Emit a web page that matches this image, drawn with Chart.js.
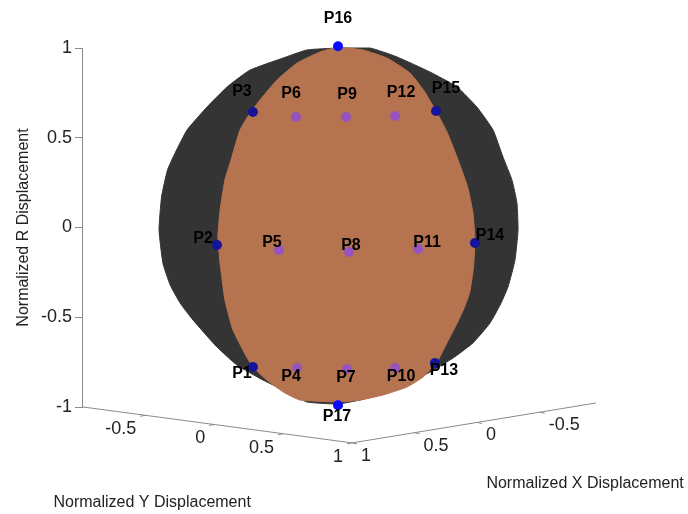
<!DOCTYPE html>
<html>
<head>
<meta charset="utf-8">
<script src="https://cdn.jsdelivr.net/npm/chart.js@4.4.1/dist/chart.umd.min.js"></script>
<style>
  html, body { margin: 0; padding: 0; background: #fff; }
</style>
</head>
<body>
<canvas id="sphereChart" width="688" height="514"></canvas>
<script>
// measuring points, as seen in the view plane (horizontal offset, normalized R)
const pointNames = ["P1", "P2", "P3", "P4", "P5", "P6", "P7", "P8", "P9",
                    "P10", "P11", "P12", "P13", "P14", "P15", "P16", "P17"];
const pointH = [-0.474, -0.674, -0.474, -0.228, -0.329, -0.234, 0.050, 0.061, 0.045,
                0.318, 0.446, 0.318, 0.540, 0.763, 0.546, 0.000, 0.000];
const pointR = [-0.777, -0.097, 0.643, -0.783, -0.125, 0.616, -0.788, -0.136, 0.616,
                -0.783, -0.120, 0.621, -0.755, -0.086, 0.649, 1.010, -0.990];
const rimPoints = ["P1", "P2", "P3", "P13", "P14", "P15"];
const polePoints = ["P16", "P17"];

// outline of the undeformed sphere
const sphereH = [0.000, 0.178, 0.329, 0.513, 0.663, 0.774, 0.864, 0.919, 0.969, 0.997,
                 1.003, 0.986, 0.947, 0.903, 0.847, 0.752, 0.641, 0.513, 0.401, 0.273,
                 0.123, 0.000, -0.173, -0.267, -0.418, -0.563, -0.674, -0.808, -0.880, -0.935,
                 -0.975, -0.997, -0.983, -0.950, -0.905, -0.841, -0.730, -0.618, -0.490, -0.306,
                 -0.173, 0.000];
const sphereR = [1.000, 1.000, 0.950, 0.866, 0.783, 0.671, 0.543, 0.393, 0.265, 0.136,
                 -0.014, -0.181, -0.331, -0.432, -0.532, -0.643, -0.727, -0.805, -0.866, -0.922,
                 -0.961, -0.983, -0.972, -0.922, -0.850, -0.766, -0.666, -0.515, -0.420, -0.320,
                 -0.200, -0.014, 0.170, 0.320, 0.420, 0.543, 0.671, 0.783, 0.877, 0.944,
                 0.989, 1.000];

// outline of the displaced surface
const surfH = [0.000, 0.139, 0.273, 0.401, 0.480, 0.552, 0.610, 0.669, 0.722, 0.752,
               0.763, 0.755, 0.733, 0.700, 0.660, 0.607, 0.552, 0.474, 0.384, 0.251,
               0.123, 0.011, -0.212, -0.306, -0.396, -0.474, -0.515, -0.585, -0.630, -0.657,
               -0.669, -0.657, -0.630, -0.596, -0.546, -0.490, -0.435, -0.340, -0.228, -0.100,
               0.000];
const surfR = [1.006, 0.989, 0.944, 0.861, 0.760, 0.638, 0.526, 0.376, 0.226, 0.081,
               -0.070, -0.220, -0.365, -0.455, -0.540, -0.643, -0.749, -0.833, -0.889, -0.933,
               -0.961, -0.972, -0.961, -0.916, -0.850, -0.777, -0.710, -0.571, -0.404, -0.198,
               -0.053, 0.097, 0.265, 0.376, 0.543, 0.638, 0.710, 0.822, 0.916, 0.978,
               1.006];

const rTicks = [-1, -0.5, 0, 0.5, 1];
const yTicks = [-0.5, 0, 0.5, 1];
const xTicks = [1, 0.5, 0, -0.5];
const yLim = [-0.96, 1];
const xLim = [-0.95, 1];

// label placement around each marker, in pixels
const labelShift = {
  P1: [-11, 7], P2: [-14, -6], P3: [-11, -20], P4: [-6, 9], P5: [-7, -7], P6: [-5, -23],
  P7: [-1, 9], P8: [2, -6], P9: [1, -22], P10: [6, 9], P11: [9, -6], P12: [6, -23],
  P13: [9, 8], P14: [15, -7], P15: [10, -22], P16: [0, -28], P17: [-1, 11]
};

const FONT = "'Liberation Sans', Arial, sans-serif";

// floor of the 3-D box: corner (X=1, Y=1) and one unit along Y and X in the view plane
const floorCorner = { h: 0.078, r: -1.2 };
const yStep = { h: 0.768, r: -0.1025 };
const xStep = { h: -0.697, r: -0.114 };
function floorPoint(X, Y) {
  return {
    h: floorCorner.h + (Y - 1) * yStep.h + (X - 1) * xStep.h,
    r: floorCorner.r + (Y - 1) * yStep.r + (X - 1) * xStep.r
  };
}

function xy(hs, rs) {
  return hs.map((h, i) => ({ x: h, y: rs[i] }));
}
function pick(names) {
  return names.map(n => {
    const i = pointNames.indexOf(n);
    return { x: pointH[i], y: pointR[i] };
  });
}
const innerNames = pointNames.filter(n => !rimPoints.includes(n) && !polePoints.includes(n));

const floorAxes = {
  id: "floorAxes",
  afterDraw(chart) {
    const ctx = chart.ctx;
    const sx = chart.scales.x, sy = chart.scales.y;
    const px = p => [sx.getPixelForValue(p.h), sy.getPixelForValue(p.r)];
    ctx.save();
    ctx.strokeStyle = "#8a8a8a";
    ctx.lineWidth = 1;

    // Y axis along the left front edge
    let a = px(floorPoint(1, yLim[0])), b = px(floorPoint(1, yLim[1]));
    ctx.beginPath(); ctx.moveTo(a[0], a[1]); ctx.lineTo(b[0], b[1]); ctx.stroke();
    // X axis along the right front edge
    a = px(floorPoint(xLim[1], 1)); b = px(floorPoint(xLim[0], 1));
    ctx.beginPath(); ctx.moveTo(a[0], a[1]); ctx.lineTo(b[0], b[1]); ctx.stroke();

    ctx.fillStyle = "#222";
    ctx.font = "18px " + FONT;
    ctx.textBaseline = "middle";

    ctx.textAlign = "right";
    yTicks.forEach(v => {
      const t = px(floorPoint(1, v));
      ctx.beginPath(); ctx.moveTo(t[0], t[1]); ctx.lineTo(t[0] - 5, t[1] + 1); ctx.stroke();
      ctx.fillText(String(v), t[0] - 9, t[1] + 14);
    });

    ctx.textAlign = "left";
    xTicks.forEach(v => {
      const t = px(floorPoint(v, 1));
      ctx.beginPath(); ctx.moveTo(t[0], t[1]); ctx.lineTo(t[0] + 5, t[1] + 1); ctx.stroke();
      ctx.fillText(String(v), t[0] + 9, t[1] + 13);
    });

    ctx.font = "16px " + FONT;
    ctx.textAlign = "center";
    const yt = px(floorPoint(1, 0));
    ctx.fillText("Normalized Y Displacement", yt[0] - 62, yt[1] + 78);
    const xt = px(floorPoint(0, 1));
    ctx.fillText("Normalized X Displacement", xt[0] + 108, xt[1] + 61);
    ctx.restore();
  }
};

const pointLabels = {
  id: "pointLabels",
  afterDatasetsDraw(chart) {
    const ctx = chart.ctx;
    const sx = chart.scales.x, sy = chart.scales.y;
    ctx.save();
    ctx.fillStyle = "#000";
    ctx.font = "bold 16px " + FONT;
    ctx.textAlign = "center";
    ctx.textBaseline = "middle";
    pointNames.forEach((n, i) => {
      const s = labelShift[n];
      ctx.fillText(n, sx.getPixelForValue(pointH[i]) + s[0], sy.getPixelForValue(pointR[i]) + s[1]);
    });
    ctx.restore();
  }
};

new Chart(document.getElementById("sphereChart"), {
  type: "scatter",
  data: {
    datasets: [
      {
        type: "line", data: xy(sphereH, sphereR), order: 4, clip: false,
        fill: "shape", backgroundColor: "#343434", borderColor: "#343434",
        borderWidth: 1, pointRadius: 0, tension: 0.15
      },
      {
        type: "line", data: xy(surfH, surfR), order: 3, clip: false,
        fill: "shape", backgroundColor: "#b5734f", borderColor: "#b5734f",
        borderWidth: 1, pointRadius: 0, tension: 0.15
      },
      {
        data: pick(innerNames), order: 2, clip: false,
        pointRadius: 5, pointBorderWidth: 0, pointBackgroundColor: "#9654c0"
      },
      {
        data: pick(rimPoints), order: 1, clip: false,
        pointRadius: 5, pointBorderWidth: 0, pointBackgroundColor: "#14149c"
      },
      {
        data: pick(polePoints), order: 0, clip: false,
        pointRadius: 5, pointBorderWidth: 0, pointBackgroundColor: "#0a0aff"
      }
    ]
  },
  options: {
    responsive: false,
    animation: false,
    layout: { padding: { left: 0, top: 48, right: 88, bottom: 107 } },
    plugins: { legend: { display: false }, tooltip: { enabled: false } },
    scales: {
      x: { type: "linear", display: false, min: -1.4262, max: 1.4596 },
      y: {
        type: "linear", position: "left", min: -1, max: 1,
        afterBuildTicks: s => { s.ticks = rTicks.map(v => ({ value: v })); },
        afterFit: s => { s.width = 82; },
        ticks: {
          color: "#222", padding: 3, font: { family: FONT, size: 18 },
          callback: v => String(v)
        },
        grid: { drawOnChartArea: false, drawTicks: true, tickLength: 7, color: "#8a8a8a" },
        border: { color: "#8a8a8a", width: 1 },
        title: {
          display: true, text: "Normalized R Displacement", color: "#222",
          font: { family: FONT, size: 16 }, padding: { top: 14, bottom: 0 }
        }
      }
    }
  },
  plugins: [floorAxes, pointLabels]
});
</script>
</body>
</html>
